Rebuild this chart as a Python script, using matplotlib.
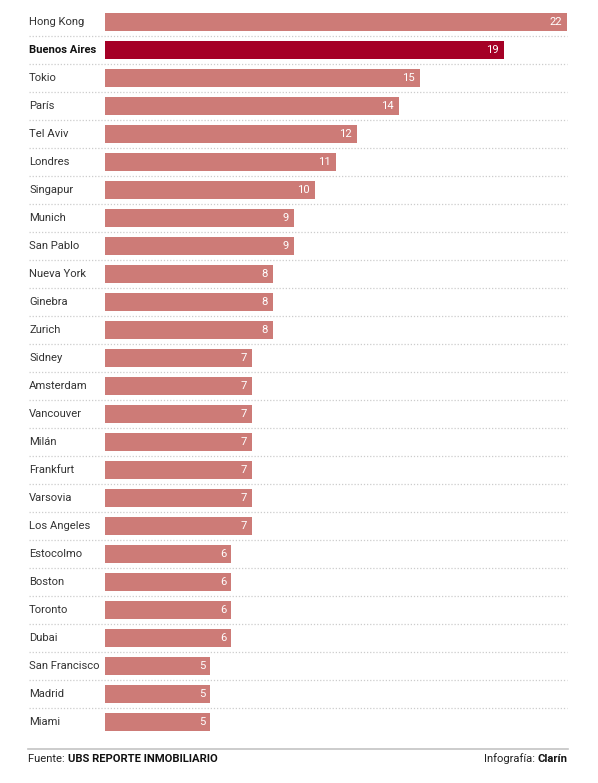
import matplotlib
matplotlib.use("Agg")
import matplotlib.pyplot as plt
import matplotlib.transforms as mtransforms

cities = ["Hong Kong", "Buenos Aires", "Tokio", "París", "Tel Aviv", "Londres",
          "Singapur", "Munich", "San Pablo", "Nueva York", "Ginebra", "Zurich",
          "Sidney", "Amsterdam", "Vancouver", "Milán", "Frankfurt", "Varsovia",
          "Los Angeles", "Estocolmo", "Boston", "Toronto", "Dubai",
          "San Francisco", "Madrid", "Miami"]
values = [22, 19, 15, 14, 12, 11, 10, 9, 9, 8, 8, 8, 7, 7, 7, 7, 7, 7, 7,
          6, 6, 6, 6, 5, 5, 5]
highlight = "Buenos Aires"

W, H = 598, 783
plt.rcParams['font.family'] = ['Roboto', 'DejaVu Sans']
fig = plt.figure(figsize=(W / 100, H / 100), dpi=100)
fig.patch.set_facecolor("white")

n = len(cities)
left_px, right_px = 105, 567
top_px, row_h = 8, 28
ax = fig.add_axes([left_px / W, 1 - (top_px + n * row_h) / H,
                   (right_px - left_px) / W, n * row_h / H])
ax.set_xlim(0, max(values))
ax.set_ylim(n - 0.5, -0.5)
ax.axis("off")

base_col = "#CD7B77"
hi_col = "#A50026"
ypos = list(range(n))
colors = [hi_col if c == highlight else base_col for c in cities]
ax.barh(ypos, values, height=18 / 28, color=colors, edgecolor="none")

blend = mtransforms.blended_transform_factory(fig.transFigure, ax.transData)
fs = 8.1
for y, v, c in zip(ypos, values, cities):
    ax.annotate(str(v), xy=(v, y), xytext=(-3.5, 0), textcoords="offset points",
                ha="right", va="center", color="white", fontsize=fs)
    ax.text(29 / W, y, c, transform=blend,
            ha="left", va="center", fontsize=fs,
            color="#111111" if c == highlight else "#333333",
            fontweight="bold" if c == highlight else "normal")

for i in range(n - 1):
    ax.plot([29 / W, 567 / W], [i + 0.5, i + 0.5], transform=blend,
            color="#cccccc", lw=0.9, ls=(0, (1, 1.5)), clip_on=False)

# footer line
fig.add_artist(plt.Line2D([28 / W, 568 / W], [1 - 748.5 / H, 1 - 748.5 / H],
                          color="#c4c4c4", lw=1.2))

fy = 1 - 759 / H
fig.canvas.draw()
r = fig.canvas.get_renderer()
t1 = fig.text(28 / W, fy, "Fuente: ", ha="left", va="center", fontsize=fs, color="#222222")
bb = t1.get_window_extent(r)
fig.text(bb.x1 / W, fy, "UBS REPORTE INMOBILIARIO", ha="left", va="center",
         fontsize=fs, fontweight="bold", color="#111111")
t3 = fig.text(568 / W, fy, "Clarín", ha="right", va="center", fontsize=fs,
              fontweight="bold", color="#111111")
bb3 = t3.get_window_extent(r)
fig.text(bb3.x0 / W, fy, "Infografía: ", ha="right", va="center", fontsize=fs,
         color="#222222")

fig.savefig("out.png", dpi=100, facecolor="white")
